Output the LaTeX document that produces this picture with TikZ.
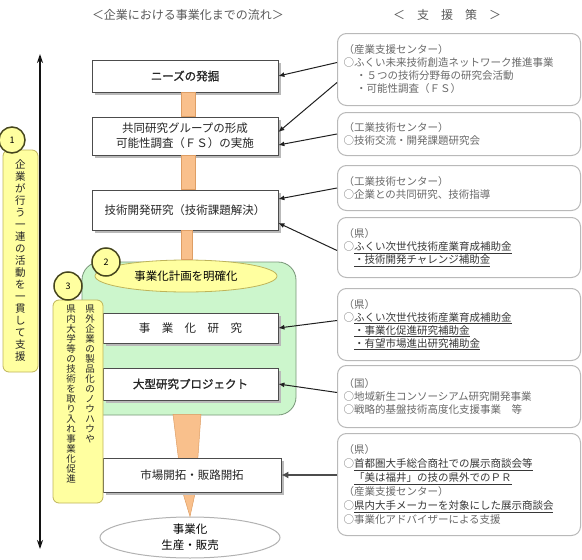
\documentclass[tikz,border=0pt]{standalone}
\usepackage{fontspec}
\setmainfont{Noto Sans CJK JP}
\newfontfamily\jpb{Noto Sans CJK JP}[FakeBold=1.3]
\usetikzlibrary{shadows,shapes.geometric,arrows.meta}
\definecolor{orangeF}{RGB}{249,192,140}
\definecolor{orangeD}{RGB}{222,158,100}
\definecolor{greenF}{RGB}{204,246,204}
\definecolor{greenD}{RGB}{120,150,120}
\definecolor{yellowF}{RGB}{255,255,160}
\definecolor{yellowD}{RGB}{190,180,90}
\definecolor{circD}{RGB}{70,70,30}
\definecolor{rtext}{RGB}{105,105,105}
\definecolor{rdark}{RGB}{55,55,55}
\newcommand{\ul}[1]{\textcolor{rdark}{\underline{#1}}}
\begin{document}
\begin{tikzpicture}[x=1pt,y=-1pt,
  flowbox/.style={draw=gray!60!black, fill=white, line width=0.8pt,
    drop shadow={shadow xshift=3pt,shadow yshift=-3pt,fill=gray!55,opacity=1},
    align=center, inner sep=0pt, font=\fontsize{11.5}{15}\selectfont, text=black!85},
  supbox/.style={draw=gray!55, rounded corners=9pt, line width=1pt, fill=white,
    text width=231pt, align=left, inner sep=0pt, inner xsep=6pt, anchor=north west,
    font=\fontsize{10.5}{13}\selectfont, text=rtext},
  ybox/.style={fill=yellowF, draw=yellowD, line width=0.8pt, rounded corners=6pt, inner sep=0pt},
  numcirc/.style={circle, fill=yellowF, draw=circD, line width=1.5pt, minimum size=28pt,
    inner sep=0pt, font=\fontsize{9}{9}\selectfont},
  vtext/.style={align=center, inner sep=0pt, anchor=north, text=black!85},
  conn/.style={draw=gray!25!black, line width=1pt, -{Latex[length=6pt,width=5pt]}},
  orbar/.style={fill=orangeF, draw=orangeD, line width=0.5pt},
  title/.style={font=\fontsize{12}{12}\selectfont, text=gray!70!black}
]
\useasboundingbox (0,0) rectangle (582,560);

% titles
\node[title] (tL) at (188,15) {＜企業における事業化までの流れ＞};
\node[title] (tR) at (447,15) {＜　支　援　策　＞};

% green region
\node[fill=greenF, draw=greenD, line width=0.8pt, rounded corners=18pt,
      minimum width=214pt, minimum height=153pt, inner sep=0pt] (grn) at (189,338.5) {};

% ellipses
\node[ellipse, fill=yellowF, draw=yellowD, line width=0.8pt, minimum width=182pt,
      minimum height=32pt, inner sep=0pt, font=\fontsize{11.5}{12}\selectfont] (H) at (186,276) {事業化計画を明確化};
\node[ellipse, fill=white, draw=gray!60, line width=1pt, minimum width=180pt,
      minimum height=41pt, inner sep=0pt, align=center, font=\fontsize{11.5}{16}\selectfont] (G) at (190,537.5) {事業化\\生産・販売};

% left flow boxes
\node[flowbox, minimum width=186pt, minimum height=32pt, font=\jpb\fontsize{11.5}{15}\selectfont] (A) at (185,76) {ニーズの発掘};
\node[flowbox, minimum width=186pt, minimum height=38pt] (B) at (185,136) {共同研究グループの形成\\可能性調査（ＦＳ）の実施};
\node[flowbox, minimum width=186pt, minimum height=40pt] (C) at (185,210) {技術開発研究（技術課題解決）};
\node[flowbox, minimum width=175pt, minimum height=30pt] (D) at (190.5,328) {事　業　化　研　究};
\node[flowbox, minimum width=175pt, minimum height=32pt, font=\jpb\fontsize{11.5}{15}\selectfont] (E) at (190.5,384) {大型研究プロジェクト};

% orange connectors
\begin{scope}[on background layer/.style={}]
\end{scope}
\path[orbar] ([xshift=-4pt]A.south) rectangle ([xshift=10pt]B.north);
\path[orbar] ([xshift=-4pt]B.south) rectangle ([xshift=10pt]C.north);
\path[orbar] ([xshift=-4pt]C.south) rectangle ([xshift=6pt]H.north);
\path[orbar] ([xshift=-16pt,yshift=1pt]grn.south) -- ([xshift=12pt,yshift=1pt]grn.south)
   -- ([xshift=5.5pt,yshift=25pt]G.north) -- (G.north) -- ([xshift=-7.5pt,yshift=25pt]G.north) -- cycle;

\node[flowbox, minimum width=178pt, minimum height=34pt] (F) at (192,475) {市場開拓・販路開拓};

% yellow side boxes
\node[ybox, minimum width=35pt, minimum height=222pt, align=center,
      font=\fontsize{10.5}{12}\selectfont, text=black!85] (Y1) at (20.5,261)
  {企\\業\\が\\行\\う\\一\\連\\の\\活\\動\\を\\一\\貫\\し\\て\\支\\援};
\node[ybox, minimum width=50pt, minimum height=203pt] (Y3) at (78,401.5) {};
\node[vtext, font=\fontsize{9.5}{10}\selectfont] (Y3r) at (90,305)
  {県\\外\\企\\業\\の\\製\\品\\化\\の\\ノ\\ウ\\ハ\\ウ\\や};
\node[vtext, font=\fontsize{9.5}{10}\selectfont] (Y3l) at (71,305)
  {県\\内\\大\\学\\等\\の\\技\\術\\を\\取\\り\\入\\れ\\事\\業\\化\\促\\進};

% number circles
\node[numcirc, minimum size=26pt] (n1) at (12,140) {1};
\node[numcirc] (n2) at (106,262) {2};
\node[numcirc] (n3) at (68,286) {3};

% long double arrow
\coordinate (up) at (40,54);
\coordinate (dn) at (40,549);
\draw[{Stealth[length=9pt,width=6pt]}-{Stealth[length=9pt,width=6pt]}, line width=1.3pt, gray!15!black] (up) -- (dn);

% support boxes
\node[supbox, minimum height=72pt] (R1) at (337,33)
  {（産業支援センター）\\○ふくい未来技術創造ネットワーク推進事業\\\hspace*{1.2em}・５つの技術分野毎の研究会活動\\\hspace*{1.2em}・可能性調査（ＦＳ）};
\node[supbox, minimum height=43pt] (R2) at (337,112)
  {（工業技術センター）\\○技術交流・開発課題研究会};
\node[supbox, minimum height=45pt] (R3) at (337,165)
  {（工業技術センター）\\○企業との共同研究、技術指導};
\node[supbox, minimum height=60pt] (R4) at (337,217)
  {（県）\\○\ul{ふくい次世代技術産業育成補助金}\\\hspace*{1em}\ul{・技術開発チャレンジ補助金}};
\node[supbox, minimum height=72pt] (R5) at (337,288)
  {（県）\\○\ul{ふくい次世代技術産業育成補助金}\\\hspace*{1em}\ul{・事業化促進研究補助金}\\\hspace*{1em}\ul{・有望市場進出研究補助金}};
\node[supbox, minimum height=62pt] (R6) at (337,365)
  {（国）\\○地域新生コンソーシアム研究開発事業\\○戦略的基盤技術高度化支援事業　等};
\node[supbox, minimum height=102pt, font=\fontsize{10.5}{14}\selectfont] (R7) at (337,433)
  {（県）\\○\ul{首都圏大手総合商社での展示商談会等}\\\hspace*{1em}\ul{「美は福井」の技の県外でのＰＲ}\\（産業支援センター）\\○\ul{県内大手メーカーを対象にした展示商談会}\\○事業化アドバイザーによる支援};

% connectors
\draw[conn] ([yshift=7pt]R1.west) -- (A.east);
\draw[conn] ([yshift=-13pt]R1.west) -- ([yshift=4pt]B.east);
\draw[conn] (R2.west) -- ([yshift=-9pt]B.east);
\draw[conn] (R3.west) -- ([yshift=11pt]C.east);
\draw[conn] ([yshift=-3pt]R4.west) -- ([yshift=-13pt]C.east);
\draw[conn] ([yshift=4pt]R5.west) -- (D.east);
\draw[conn] ([yshift=4pt]R6.west) -- (E.east);
\draw[draw=gray!60!black, line width=2.2pt, -{Latex[length=7pt,width=7pt]}] (R7.west |- F.east) -- (F.east);
\end{tikzpicture}
\end{document}
